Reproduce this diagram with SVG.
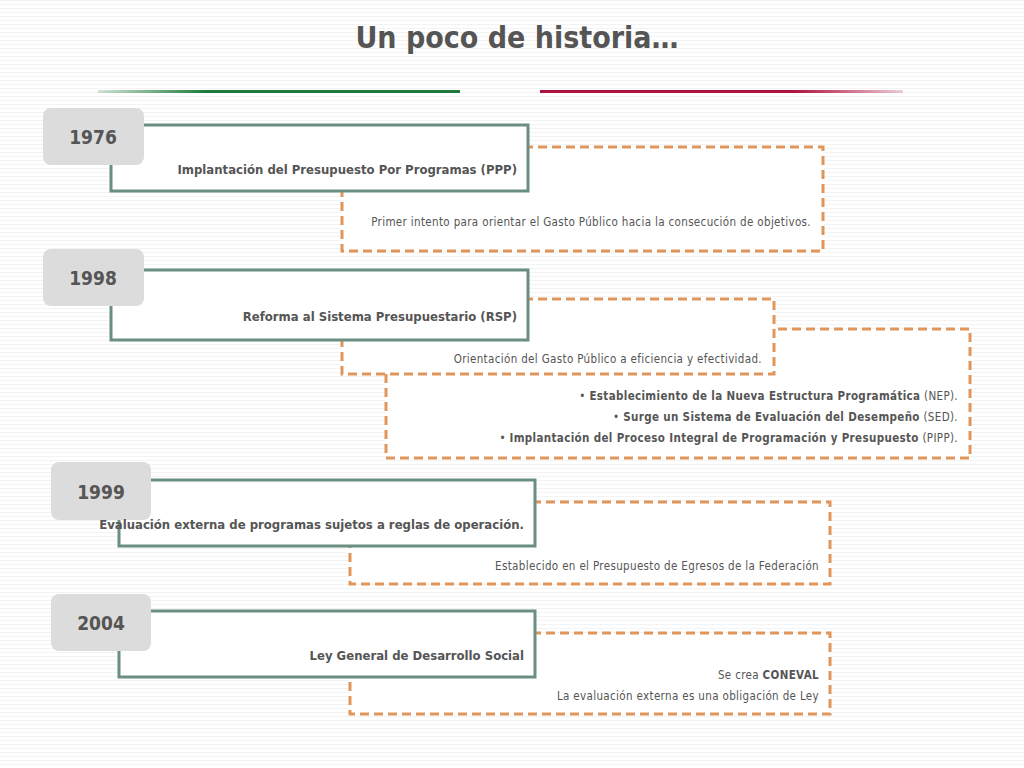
<svg xmlns="http://www.w3.org/2000/svg" width="1024" height="768" viewBox="0 0 1024 768">
<defs>
<pattern id="bg" width="4" height="4" patternUnits="userSpaceOnUse"><rect width="4" height="4" fill="#fff"/><rect width="4" height="1" fill="#f3f3f3"/></pattern>
<linearGradient id="gl" x1="0" x2="1"><stop offset="0" stop-color="#1e7a3a" stop-opacity="0.2"/><stop offset="0.3" stop-color="#1e7a3a"/><stop offset="1" stop-color="#1e7a3a"/></linearGradient>
<linearGradient id="rl" x1="0" x2="1"><stop offset="0" stop-color="#b0123e"/><stop offset="0.7" stop-color="#b0123e"/><stop offset="1" stop-color="#b0123e" stop-opacity="0.2"/></linearGradient>
</defs>
<style>
text{font-family:"DejaVu Sans Condensed","Liberation Sans",sans-serif;fill:#555;font-weight:bold}
.o{fill:#fff;stroke:#e0955a;stroke-width:3;stroke-dasharray:9,5}
.g{fill:#fff;stroke:#6a8f80;stroke-width:3}
.y{fill:#dcdcdc}
.yt{font-size:19px;text-anchor:middle}
.h{font-size:13px;text-anchor:end}
.s{font-size:11.5px;text-anchor:end;font-weight:normal;letter-spacing:0.35px}
</style>
<rect width="1024" height="768" fill="url(#bg)"/>
<text x="517" y="48" font-size="30" text-anchor="middle" fill="#666">Un poco de historia…</text>
<rect x="98" y="90" width="362" height="3" fill="url(#gl)"/>
<rect x="540" y="90" width="363" height="3" fill="url(#rl)"/>
<g id="connectors"></g>
<g id="n1976">
<rect class="o" x="342" y="147" width="481" height="104"/>
<rect class="g" x="111" y="125" width="417" height="66"/>
<rect class="y" x="43" y="108" width="101" height="57" rx="8"/>
<text class="yt" x="93" y="144">1976</text>
<text class="h" x="517" y="174">Implantación del Presupuesto Por Programas (PPP)</text>
<text class="s" x="811" y="226">Primer intento para orientar el Gasto Público hacia la consecución de objetivos.</text>
</g>
<g id="n1998">
<rect class="o" x="386" y="329" width="584" height="129"/>
<rect class="o" x="342" y="299" width="432" height="75"/>
<rect class="g" x="111" y="270" width="417" height="70"/>
<rect class="y" x="43" y="249" width="101" height="57" rx="8"/>
<text class="yt" x="93" y="285">1998</text>
<text class="h" x="517" y="321">Reforma al Sistema Presupuestario (RSP)</text>
<text class="s" x="762" y="363">Orientación del Gasto Público a eficiencia y efectividad.</text>
<text class="s" x="958" y="400">•      <tspan font-weight="bold">Establecimiento de la Nueva Estructura Programática</tspan> (NEP).</text>
<text class="s" x="958" y="421">•      <tspan font-weight="bold">Surge un Sistema de Evaluación del Desempeño</tspan> (SED).</text>
<text class="s" x="958" y="442">•      <tspan font-weight="bold">Implantación del Proceso Integral de Programación y Presupuesto</tspan> (PIPP).</text>
</g>
<g id="n1999">
<rect class="o" x="350" y="502" width="480" height="82"/>
<rect class="g" x="119" y="480" width="416" height="66"/>
<rect class="y" x="51" y="462" width="100" height="58" rx="8"/>
<text class="yt" x="101" y="499">1999</text>
<text class="h" x="524" y="529">Evaluación externa de programas sujetos a reglas de operación.</text>
<text class="s" x="819" y="570">Establecido en el Presupuesto de Egresos de la Federación</text>
</g>
<g id="n2004">
<rect class="o" x="350" y="633" width="480" height="81"/>
<rect class="g" x="119" y="611" width="416" height="66"/>
<rect class="y" x="51" y="594" width="100" height="57" rx="8"/>
<text class="yt" x="101" y="630">2004</text>
<text class="h" x="524" y="660">Ley General de Desarrollo Social</text>
<text class="s" x="819" y="679">Se crea <tspan font-weight="bold">CONEVAL</tspan></text>
<text class="s" x="819" y="700">La evaluación externa es una obligación de Ley</text>
</g>
</svg>
